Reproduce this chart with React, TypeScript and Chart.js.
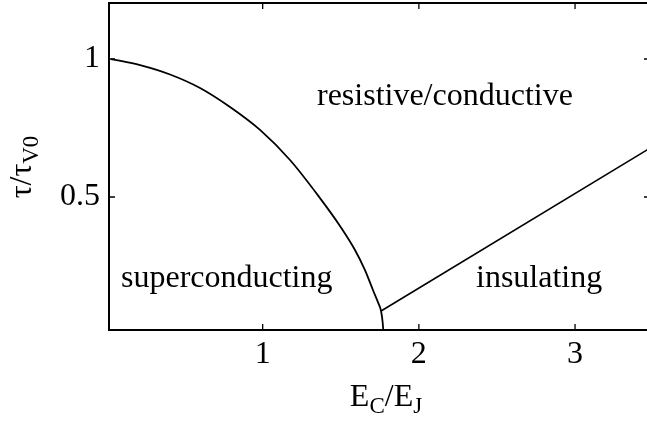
import React, { useEffect, useRef } from "react";
import { Chart, registerables } from "chart.js";

Chart.register(...registerables);

// Phase boundary between superconducting and resistive/conductive regions
const boundaryX = [0.029, 0.215, 0.407, 0.599, 0.791, 0.983, 1.175, 1.367, 1.495, 1.591, 1.655, 1.706, 1.738, 1.758, 1.768, 1.772];
const boundaryY = [1.0, 0.978, 0.944, 0.895, 0.826, 0.743, 0.634, 0.496, 0.395, 0.308, 0.235, 0.163, 0.119, 0.087, 0.047, 0.018];

// Insulating boundary (straight line)
const insulatingX = [1.758, 3.48];
const insulatingY = [0.087, 0.677];

const xTicks = [1, 2, 3];
const yTicks = [0.5, 1];
const xRange = [0.016, 3.48];
const yRange = [0.018, 1.203];

// Region names with their anchor (centre x, baseline y) in data units
const regionNames = ["resistive/conductive", "superconducting", "insulating"];
const regionX = [2.167, 0.77, 2.77];
const regionY = [0.833, 0.174, 0.174];

const FONT = "'Liberation Serif', 'Times New Roman', serif";
const FS = 32;

const framePlugin = {
  id: "frameAndLabels",
  afterDraw(chart: any) {
    const { ctx, chartArea } = chart;
    const { left, right, top, bottom } = chartArea;
    const xs = chart.scales.x;
    const ys = chart.scales.y;
    ctx.save();
    ctx.strokeStyle = "#000";
    ctx.lineWidth = 2;
    ctx.beginPath();
    ctx.moveTo(left, top);
    ctx.lineTo(right, top);
    ctx.lineTo(right, bottom);
    ctx.lineTo(left, bottom);
    ctx.closePath();
    ctx.stroke();

    ctx.lineWidth = 1.3;
    const tl = 6;
    ctx.beginPath();
    xTicks.forEach((v) => {
      const px = xs.getPixelForValue(v);
      ctx.moveTo(px, bottom);
      ctx.lineTo(px, bottom - tl);
      ctx.moveTo(px, top);
      ctx.lineTo(px, top + tl);
    });
    yTicks.forEach((v) => {
      const py = ys.getPixelForValue(v);
      ctx.moveTo(left, py);
      ctx.lineTo(left + tl, py);
      ctx.moveTo(right, py);
      ctx.lineTo(right - tl, py);
    });
    ctx.stroke();

    // region names
    ctx.fillStyle = "#000";
    ctx.font = `${FS}px ${FONT}`;
    ctx.textAlign = "center";
    ctx.textBaseline = "alphabetic";
    regionNames.forEach((t, i) => {
      ctx.fillText(t, xs.getPixelForValue(regionX[i]), ys.getPixelForValue(regionY[i]));
    });

    const subFS = Math.round(FS * 0.72);
    const measure = (parts: [string, boolean][]) =>
      parts.reduce((w, [s, sub]) => {
        ctx.font = `${sub ? subFS : FS}px ${FONT}`;
        return w + ctx.measureText(s).width;
      }, 0);
    const drawParts = (parts: [string, boolean][], x0: number, base: number) => {
      let x = x0;
      ctx.textAlign = "left";
      parts.forEach(([s, sub]) => {
        ctx.font = `${sub ? subFS : FS}px ${FONT}`;
        ctx.fillText(s, x, sub ? base + 7 : base);
        x += ctx.measureText(s).width;
      });
    };

    // x axis title: E_C/E_J
    const xParts: [string, boolean][] = [
      ["E", false],
      ["C", true],
      ["/", false],
      ["E", false],
      ["J", true],
    ];
    const xw = measure(xParts);
    drawParts(xParts, 386 - xw / 2, 406);

    // y axis title: τ/τ_V0 (rotated)
    const yParts: [string, boolean][] = [
      ["τ/τ", false],
      ["V0", true],
    ];
    const yw = measure(yParts);
    ctx.save();
    ctx.translate(31, 167);
    ctx.rotate(-Math.PI / 2);
    drawParts(yParts, -yw / 2, 0);
    ctx.restore();

    ctx.restore();
  },
};

export default function App() {
  const ref = useRef<HTMLCanvasElement | null>(null);
  useEffect(() => {
    if (!ref.current) return;
    const chart = new Chart(ref.current, {
      type: "scatter",
      data: {
        datasets: [
          {
            data: boundaryX.map((x, i) => ({ x, y: boundaryY[i] })),
            showLine: true,
            borderColor: "#000",
            borderWidth: 1.8,
            pointRadius: 0,
            cubicInterpolationMode: "monotone",
          },
          {
            data: insulatingX.map((x, i) => ({ x, y: insulatingY[i] })),
            showLine: true,
            borderColor: "#000",
            borderWidth: 1.6,
            pointRadius: 0,
          },
        ],
      },
      options: {
        responsive: false,
        animation: false,
        events: [],
        layout: { padding: { top: 3, left: 0, right: 0, bottom: 0 } },
        plugins: { legend: { display: false }, tooltip: { enabled: false } },
        scales: {
          x: {
            type: "linear",
            min: xRange[0],
            max: xRange[1],
            afterBuildTicks: (s: any) => {
              s.ticks = xTicks.map((v) => ({ value: v }));
            },
            afterFit: (s: any) => {
              s.height = 114;
              s.paddingLeft = 0;
              s.paddingRight = 0;
            },
            grid: { display: false, drawTicks: false },
            border: { display: false },
            ticks: {
              color: "#000",
              padding: 5,
              maxRotation: 0,
              font: { family: FONT, size: FS },
              callback: (v: any) => String(v),
            },
          },
          y: {
            type: "linear",
            min: yRange[0],
            max: yRange[1],
            afterBuildTicks: (s: any) => {
              s.ticks = yTicks.map((v) => ({ value: v }));
            },
            afterFit: (s: any) => {
              s.width = 109;
              s.paddingTop = 0;
              s.paddingBottom = 0;
            },
            grid: { display: false, drawTicks: false },
            border: { display: false },
            ticks: {
              color: "#000",
              padding: 9,
              font: { family: FONT, size: FS },
              callback: (v: any) => String(v),
            },
          },
        },
      },
      plugins: [framePlugin],
    } as any);
    return () => chart.destroy();
  }, []);
  return (
    <div
      style={{
        position: "fixed",
        left: 0,
        top: 0,
        width: 647,
        height: 444,
        overflow: "hidden",
        background: "#fff",
      }}
    >
      <canvas ref={ref} width={650} height={444} style={{ display: "block" }} />
    </div>
  );
}
